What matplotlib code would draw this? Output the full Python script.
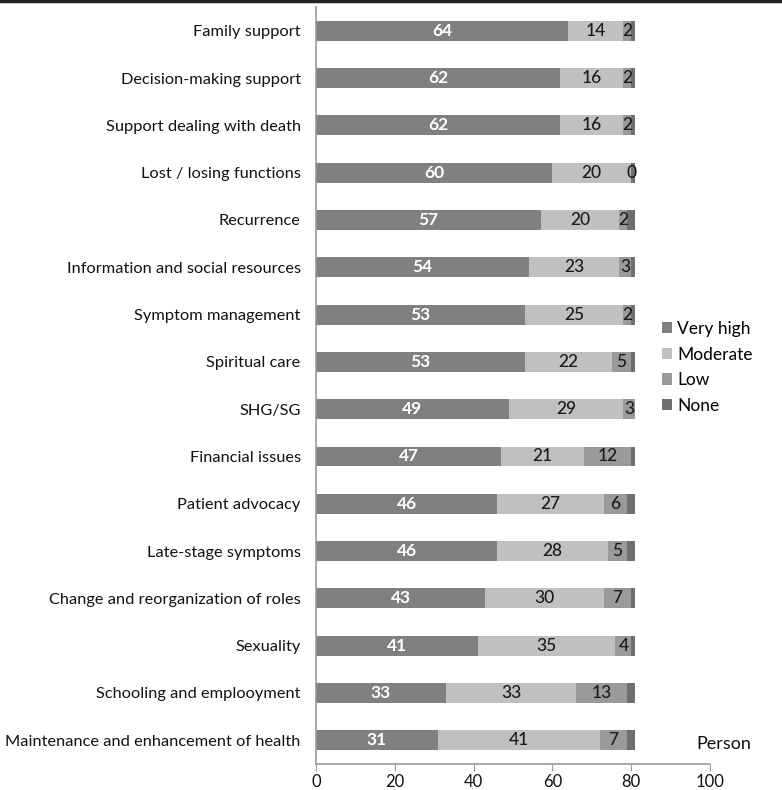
import matplotlib.pyplot as plt
import numpy as np

plt.rcParams['font.family'] = ['Lato', 'DejaVu Sans']

# Items (top to bottom)
items = ['Family support', 'Decision-making support', 'Support dealing with death',
         'Lost / losing functions', 'Recurrence', 'Information and social resources',
         'Symptom management', 'Spiritual care', 'SHG/SG', 'Financial issues',
         'Patient advocacy', 'Late-stage symptoms', 'Change and reorganization of roles',
         'Sexuality', 'Schooling and emplooyment', 'Maintenance and enhancement of health']

very_high = [64, 62, 62, 60, 57, 54, 53, 53, 49, 47, 46, 46, 43, 41, 33, 31]
moderate = [14, 16, 16, 20, 20, 23, 25, 22, 29, 21, 27, 28, 30, 35, 33, 41]
low = [2, 2, 2, 0, 2, 3, 2, 5, 3, 12, 6, 5, 7, 4, 13, 7]
none = [1, 1, 1, 1, 2, 1, 1, 1, 0, 1, 2, 2, 1, 1, 2, 2]

series = [('Very high', very_high, '#808080'),
          ('Moderate', moderate, '#c0c0c0'),
          ('Low', low, '#9a9a9a'),
          ('None', none, '#6f6f6f')]

fig = plt.figure(figsize=(7.82, 7.9), dpi=100)
ax = fig.add_axes([0.404, 0.033, 0.504, 0.958])

y = np.arange(len(items))
left = np.zeros(len(items))
for i, (name, vals, color) in enumerate(series):
    vals = np.array(vals, dtype=float)
    ax.barh(y, vals, left=left, height=0.42, color=color, label=name)
    # value labels for the first three series
    if i < 3:
        for yy, l, v in zip(y, left, vals):
            txt_color = 'white' if i == 0 else '#1a1a1a'
            ax.text(l + v / 2, yy, f'{int(v)}', ha='center', va='center',
                    fontsize=12.5, color=txt_color,
                    fontweight='bold' if i == 0 else 'medium')
    left += vals

ax.set_ylim(len(items) - 0.5, -0.5)
ax.set_xlim(0, 100)
ax.set_xticks([0, 20, 40, 60, 80, 100])
ax.set_yticks(y)
ax.set_yticklabels(items, fontsize=11.8, color='#111111')
ax.tick_params(axis='y', length=0, pad=11)
ax.tick_params(axis='x', labelsize=12, length=5, pad=2, color='#999999',
               direction='out', labelcolor='#111111')

for s in ['top', 'right']:
    ax.spines[s].set_visible(False)
for s in ['left', 'bottom']:
    ax.spines[s].set_color('#999999')
    ax.spines[s].set_linewidth(1.2)

ax.legend(loc='center left', bbox_to_anchor=(0.86, 0.524), frameon=False,
          fontsize=12.5, handlelength=0.6, handleheight=0.6, handletextpad=0.3,
          labelspacing=0.55, borderaxespad=0)

fig.text(0.89, 0.058, 'Person', fontsize=13, ha='left', va='center', color='#111111')

# thin dark rule along the top edge
fig.add_artist(plt.Line2D([0, 1], [0.999, 0.999], color='#222222', linewidth=2.5,
                          transform=fig.transFigure))

fig.savefig('out.png', dpi=100)
